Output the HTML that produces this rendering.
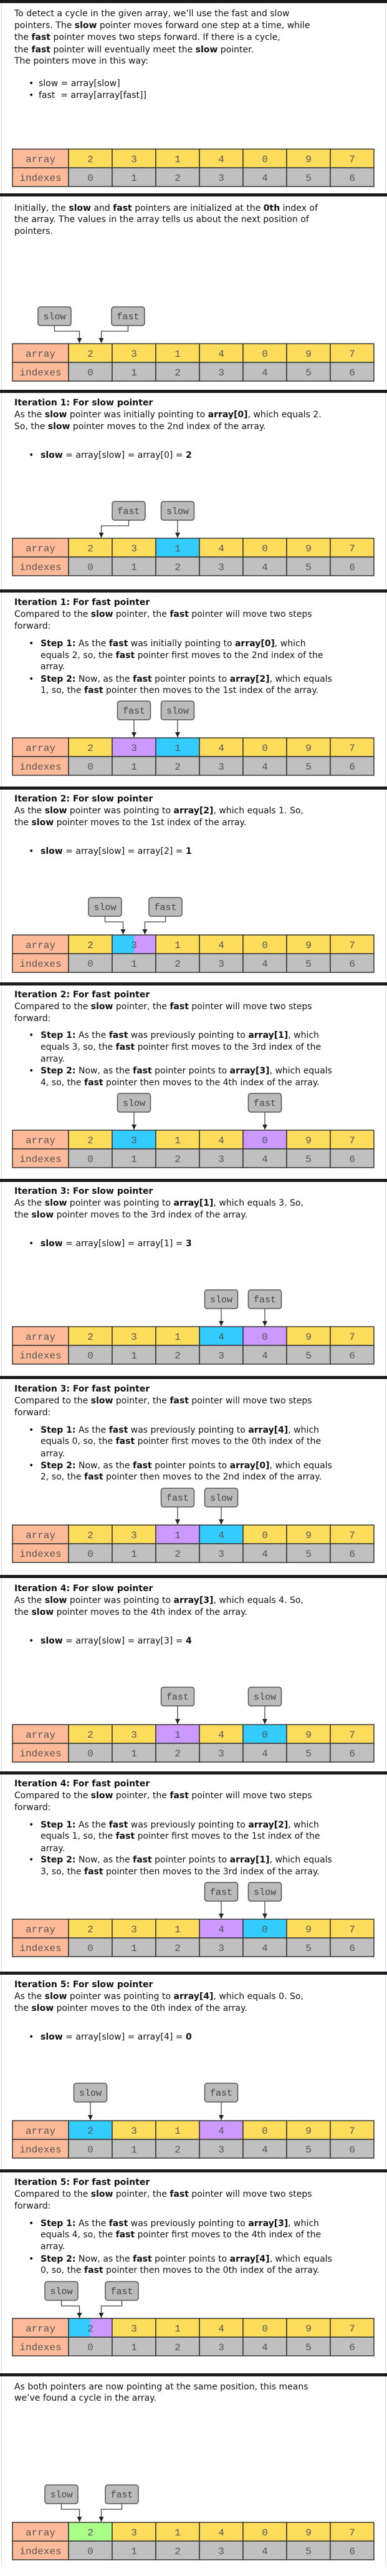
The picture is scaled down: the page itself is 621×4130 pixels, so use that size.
<!DOCTYPE html>
<html><head><meta charset="utf-8">
<style>
html,body{margin:0;padding:0;background:#fff;}
#page{position:relative;width:621px;height:4130px;overflow:hidden;background:#fff;font-family:"DejaVu Sans","Liberation Sans",sans-serif;font-size:14px;color:#111;}
.bar{position:absolute;left:0;width:621px;height:5px;background:#1b1b1f;}
.l{position:absolute;left:23px;line-height:19px;white-space:nowrap;}
.b{position:absolute;left:46px;line-height:19px;}
.bt{position:absolute;left:65px;line-height:19px;white-space:nowrap;}
.side{position:absolute;top:0;width:1px;height:4115px;background:#ddd;}
svg{position:absolute;left:0;top:0;}
</style></head>
<body>
<div id="page">
<div class="side" style="left:2px"></div>
<div class="side" style="left:618px"></div>

<div class="bar" style="top:0"></div>
<div class="bar" style="top:310px"></div>
<div class="bar" style="top:625px"></div>
<div class="bar" style="top:945px"></div>
<div class="bar" style="top:1261px"></div>
<div class="bar" style="top:1575px"></div>
<div class="bar" style="top:1890px"></div>
<div class="bar" style="top:2206px"></div>
<div class="bar" style="top:2525px"></div>
<div class="bar" style="top:2840px"></div>
<div class="bar" style="top:3161px"></div>
<div class="bar" style="top:3478px"></div>
<div class="bar" style="top:3805px"></div>

<div>
<div class="l" style="top:13px">To detect a cycle in the given array, we’ll use the fast and slow</div>
<div class="l" style="top:32px">pointers. The <b>slow</b> pointer moves forward one step at a time, while</div>
<div class="l" style="top:51px">the <b>fast</b> pointer moves two steps forward. If there is a cycle,</div>
<div class="l" style="top:71px">the <b>fast</b> pointer will eventually meet the <b>slow</b> pointer.</div>
<div class="l" style="top:89px">The pointers move in this way:</div>
<div class="b" style="top:125px">•</div><div class="bt" style="top:125px;left:62px">slow = array[slow]</div>
<div class="b" style="top:144px">•</div><div class="bt" style="top:144px;left:62px">fast &nbsp;= array[array[fast]]</div>
</div>

<div>
<div class="l" style="top:325px">Initially, the <b>slow</b> and <b>fast</b> pointers are initialized at the <b>0th</b> index of</div>
<div class="l" style="top:343px">the array. The values in the array tells us about the next position of</div>
<div class="l" style="top:362px">pointers.</div>
</div>

<div>
<div class="l" style="top:637px"><b>Iteration 1: For slow pointer</b></div>
<div class="l" style="top:656px">As the <b>slow</b> pointer was initially pointing to <b>array[0]</b>, which equals 2.</div>
<div class="l" style="top:675px">So, the <b>slow</b> pointer moves to the 2nd index of the array.</div>
<div class="b" style="top:721px">•</div><div class="bt" style="top:721px"><b>slow</b> = array[slow] = array[0] = <b>2</b></div>
</div>

<div>
<div class="l" style="top:957px"><b>Iteration 1: For fast pointer</b></div>
<div class="l" style="top:976px">Compared to the <b>slow</b> pointer, the <b>fast</b> pointer will move two steps</div>
<div class="l" style="top:995px">forward:</div>
<div class="b" style="top:1023px">•</div><div class="bt" style="top:1023px"><b>Step 1:</b> As the <b>fast</b> was initially pointing to <b>array[0]</b>, which</div>
<div class="bt" style="top:1042px">equals 2, so, the <b>fast</b> pointer first moves to the 2nd index of the</div>
<div class="bt" style="top:1060px">array.</div>
<div class="b" style="top:1080px">•</div><div class="bt" style="top:1080px"><b>Step 2:</b> Now, as the <b>fast</b> pointer points to <b>array[2]</b>, which equals</div>
<div class="bt" style="top:1098px">1, so, the <b>fast</b> pointer then moves to the 1st index of the array.</div>
</div>

<div>
<div class="l" style="top:1272px"><b>Iteration 2: For slow pointer</b></div>
<div class="l" style="top:1291px">As the <b>slow</b> pointer was pointing to <b>array[2]</b>, which equals 1. So,</div>
<div class="l" style="top:1310px">the <b>slow</b> pointer moves to the 1st index of the array.</div>
<div class="b" style="top:1356px">•</div><div class="bt" style="top:1356px"><b>slow</b> = array[slow] = array[2] = <b>1</b></div>
</div>

<div>
<div class="l" style="top:1586px"><b>Iteration 2: For fast pointer</b></div>
<div class="l" style="top:1605px">Compared to the <b>slow</b> pointer, the <b>fast</b> pointer will move two steps</div>
<div class="l" style="top:1624px">forward:</div>
<div class="b" style="top:1651px">•</div><div class="bt" style="top:1651px"><b>Step 1:</b> As the <b>fast</b> was previously pointing to <b>array[1]</b>, which</div>
<div class="bt" style="top:1670px">equals 3, so, the <b>fast</b> pointer first moves to the 3rd index of the</div>
<div class="bt" style="top:1689px">array.</div>
<div class="b" style="top:1708px">•</div><div class="bt" style="top:1708px"><b>Step 2:</b> Now, as the <b>fast</b> pointer points to <b>array[3]</b>, which equals</div>
<div class="bt" style="top:1727px">4, so, the <b>fast</b> pointer then moves to the 4th index of the array.</div>
</div>

<div>
<div class="l" style="top:1901px"><b>Iteration 3: For slow pointer</b></div>
<div class="l" style="top:1920px">As the <b>slow</b> pointer was pointing to <b>array[1]</b>, which equals 3. So,</div>
<div class="l" style="top:1939px">the <b>slow</b> pointer moves to the 3rd index of the array.</div>
<div class="b" style="top:1985px">•</div><div class="bt" style="top:1985px"><b>slow</b> = array[slow] = array[1] = <b>3</b></div>
</div>

<div>
<div class="l" style="top:2218px"><b>Iteration 3: For fast pointer</b></div>
<div class="l" style="top:2237px">Compared to the <b>slow</b> pointer, the <b>fast</b> pointer will move two steps</div>
<div class="l" style="top:2256px">forward:</div>
<div class="b" style="top:2284px">•</div><div class="bt" style="top:2284px"><b>Step 1:</b> As the <b>fast</b> was previously pointing to <b>array[4]</b>, which</div>
<div class="bt" style="top:2302px">equals 0, so, the <b>fast</b> pointer first moves to the 0th index of the</div>
<div class="bt" style="top:2322px">array.</div>
<div class="b" style="top:2341px">•</div><div class="bt" style="top:2341px"><b>Step 2:</b> Now, as the <b>fast</b> pointer points to <b>array[0]</b>, which equals</div>
<div class="bt" style="top:2359px">2, so, the <b>fast</b> pointer then moves to the 2nd index of the array.</div>
</div>

<div>
<div class="l" style="top:2538px"><b>Iteration 4: For slow pointer</b></div>
<div class="l" style="top:2557px">As the <b>slow</b> pointer was pointing to <b>array[3]</b>, which equals 4. So,</div>
<div class="l" style="top:2576px">the <b>slow</b> pointer moves to the 4th index of the array.</div>
<div class="b" style="top:2622px">•</div><div class="bt" style="top:2622px"><b>slow</b> = array[slow] = array[3] = <b>4</b></div>
</div>

<div>
<div class="l" style="top:2851px"><b>Iteration 4: For fast pointer</b></div>
<div class="l" style="top:2870px">Compared to the <b>slow</b> pointer, the <b>fast</b> pointer will move two steps</div>
<div class="l" style="top:2889px">forward:</div>
<div class="b" style="top:2917px">•</div><div class="bt" style="top:2917px"><b>Step 1:</b> As the <b>fast</b> was previously pointing to <b>array[2]</b>, which</div>
<div class="bt" style="top:2935px">equals 1, so, the <b>fast</b> pointer first moves to the 1st index of the</div>
<div class="bt" style="top:2955px">array.</div>
<div class="b" style="top:2973px">•</div><div class="bt" style="top:2973px"><b>Step 2:</b> Now, as the <b>fast</b> pointer points to <b>array[1]</b>, which equals</div>
<div class="bt" style="top:2992px">3, so, the <b>fast</b> pointer then moves to the 3rd index of the array.</div>
</div>

<div>
<div class="l" style="top:3173px"><b>Iteration 5: For slow pointer</b></div>
<div class="l" style="top:3192px">As the <b>slow</b> pointer was pointing to <b>array[4]</b>, which equals 0. So,</div>
<div class="l" style="top:3211px">the <b>slow</b> pointer moves to the 0th index of the array.</div>
<div class="b" style="top:3257px">•</div><div class="bt" style="top:3257px"><b>slow</b> = array[slow] = array[4] = <b>0</b></div>
</div>

<div>
<div class="l" style="top:3490px"><b>Iteration 5: For fast pointer</b></div>
<div class="l" style="top:3509px">Compared to the <b>slow</b> pointer, the <b>fast</b> pointer will move two steps</div>
<div class="l" style="top:3528px">forward:</div>
<div class="b" style="top:3556px">•</div><div class="bt" style="top:3556px"><b>Step 1:</b> As the <b>fast</b> was previously pointing to <b>array[3]</b>, which</div>
<div class="bt" style="top:3574px">equals 4, so, the <b>fast</b> pointer first moves to the 4th index of the</div>
<div class="bt" style="top:3593px">array.</div>
<div class="b" style="top:3613px">•</div><div class="bt" style="top:3613px"><b>Step 2:</b> Now, as the <b>fast</b> pointer points to <b>array[4]</b>, which equals</div>
<div class="bt" style="top:3631px">0, so, the <b>fast</b> pointer then moves to the 0th index of the array.</div>
</div>

<div>
<div class="l" style="top:3818px">As both pointers are now pointing at the same position, this means</div>
<div class="l" style="top:3836px">we’ve found a cycle in the array.</div>
</div>

<svg id="svg" width="621" height="4130"></svg>
</div>

<script>
// Array data
const values = [2, 3, 1, 4, 0, 9, 7];
const indexes = [0, 1, 2, 3, 4, 5, 6];
// Per-panel pointer positions (array index); -1 = no pointer shown
const slowPos = [-1, 0, 2, 2, 1, 1, 3, 3, 4, 4, 0, 0, 0];
const fastPos = [-1, 0, 0, 1, 1, 4, 4, 2, 2, 3, 3, 0, 0];
// Whether each pointer cell is highlighted in the panel
const slowHi = [0, 0, 1, 1, 1, 1, 1, 1, 1, 1, 1, 1, 0];
const fastHi = [0, 0, 0, 1, 1, 1, 1, 1, 1, 1, 1, 1, 0];
const metHi  = [0, 0, 0, 0, 0, 0, 0, 0, 0, 0, 0, 0, 1];

// Layout (not data)
const tableTop = [239, 551, 863, 1183, 1499, 1812, 2127, 2445, 2765, 3077, 3400, 3717, 4044];
const boxTop   = [0, 492, 804, 1124, 1439, 1753, 2068, 2386, 2705, 3018, 3340, 3658, 3984];
// horizontal shift of the box relative to its arrow (same-cell / special layouts)
const slowShift = [0, -40, 0, 0, -29, 0, 0, 0, 0, 0, 0, -29, -29];
const fastShift = [0, 43, 44, 0, 33, 0, 0, 0, 0, 0, 0, 33, 33];
const labelW = 90, cellW = 70, rowH = 30, x0 = 20;
const boxW = 53, boxH = 30;
const C = {label:'#ffbb99', val:'#ffdd5c', idx:'#c0c0c0', slow:'#33ccff', fast:'#cc99ff', met:'#aaff88'};

const NS = 'http://www.w3.org/2000/svg';
const svg = document.getElementById('svg');
function mk(tag, attrs, parent){
  const e = document.createElementNS(NS, tag);
  for (const k in attrs) e.setAttribute(k, attrs[k]);
  (parent || svg).appendChild(e);
  return e;
}
function cellX(i){ return x0 + labelW + i * cellW; }

function drawPanel(p){
  const ty = tableTop[p];
  const g = mk('g', {});
  
  
  const s = slowPos[p], f = fastPos[p];
  const same = s >= 0 && s === f;
  [['array', ty], ['indexes', ty + rowH]].forEach(([t, y]) => {
    mk('rect', {x:x0, y:y, width:labelW, height:rowH, fill:C.label, stroke:'#333', 'stroke-width':1.5}, g);
    const tx = mk('text', {x:x0 + labelW / 2, y:y + 21, 'text-anchor':'middle', 'font-family':'Liberation Mono, monospace', 'font-size':16, fill:'#555'}, g);
    tx.textContent = t;
  });
  values.forEach((v, i) => {
    const x = cellX(i);
    let fill = C.val;
    if (same && i === s) {
      if (metHi[p]) fill = C.met;
      else if (slowHi[p] && fastHi[p]) {
        mk('rect', {x:x, y:ty, width:cellW / 2, height:rowH, fill:C.slow}, g);
        mk('rect', {x:x + cellW / 2, y:ty, width:cellW / 2, height:rowH, fill:C.fast}, g);
        fill = 'none';
      }
    } else {
      if (i === s && slowHi[p]) fill = C.slow;
      if (i === f && fastHi[p]) fill = C.fast;
    }
    const r = mk('rect', {x:x, y:ty, width:cellW, height:rowH, fill:fill, stroke:'#333', 'stroke-width':1.5}, g);
    
    
    const t = mk('text', {x:x + cellW / 2, y:ty + 21, 'text-anchor':'middle', 'font-family':'Liberation Mono, monospace', 'font-size':16, fill:'#555'}, g);
    t.textContent = v;
    mk('rect', {x:x, y:ty + rowH, width:cellW, height:rowH, fill:C.idx, stroke:'#333', 'stroke-width':1.5}, g);
    const t2 = mk('text', {x:x + cellW / 2, y:ty + rowH + 21, 'text-anchor':'middle', 'font-family':'Liberation Mono, monospace', 'font-size':16, fill:'#555'}, g);
    t2.textContent = indexes[i];
  });
  if (s < 0) return;
  const ptrs = [['slow', s, 0], ['fast', f, 1]];
  ptrs.forEach(([name, idx, k]) => {
    const shift = k === 0 ? slowShift[p] : fastShift[p];
    let tx = cellX(idx) + cellW / 2;
    if (same) tx = cellX(idx) + (k === 0 ? cellW / 4 : 3 * cellW / 4);
    else if (shift !== 0) tx = cellX(idx) + (k === 0 ? cellW / 4 : 3 * cellW / 4);
    const bx = tx + shift - boxW / 2;
    const by = boxTop[p];
    const pg = mk('g', {}, g);
    
    
    mk('rect', {x:bx, y:by, width:boxW, height:boxH, rx:4, fill:'#bbbbbb', stroke:'#555', 'stroke-width':1.5}, pg);
    const lt = mk('text', {x:bx + boxW / 2, y:by + 20, 'text-anchor':'middle', 'font-family':'Liberation Mono, monospace', 'font-size':15, fill:'#444'}, pg);
    lt.textContent = name;
    const cx = bx + boxW / 2;
    const ay = ty - 1;
    let d;
    if (Math.abs(cx - tx) < 2) d = 'M' + cx + ',' + (by + boxH) + ' V' + ay;
    else { const my = by + boxH + 9; d = 'M' + cx + ',' + (by + boxH) + ' V' + my + ' H' + tx + ' V' + ay; }
    mk('path', {d:d, fill:'none', stroke:'#444', 'stroke-width':1.3}, pg);
    mk('path', {d:'M' + (tx - 4) + ',' + (ay - 8) + ' L' + (tx + 4) + ',' + (ay - 8) + ' L' + tx + ',' + ay + ' Z', fill:'#222'}, pg);
  });
}
for (let p = 0; p < tableTop.length; p++) drawPanel(p);
</script>
</body></html>
